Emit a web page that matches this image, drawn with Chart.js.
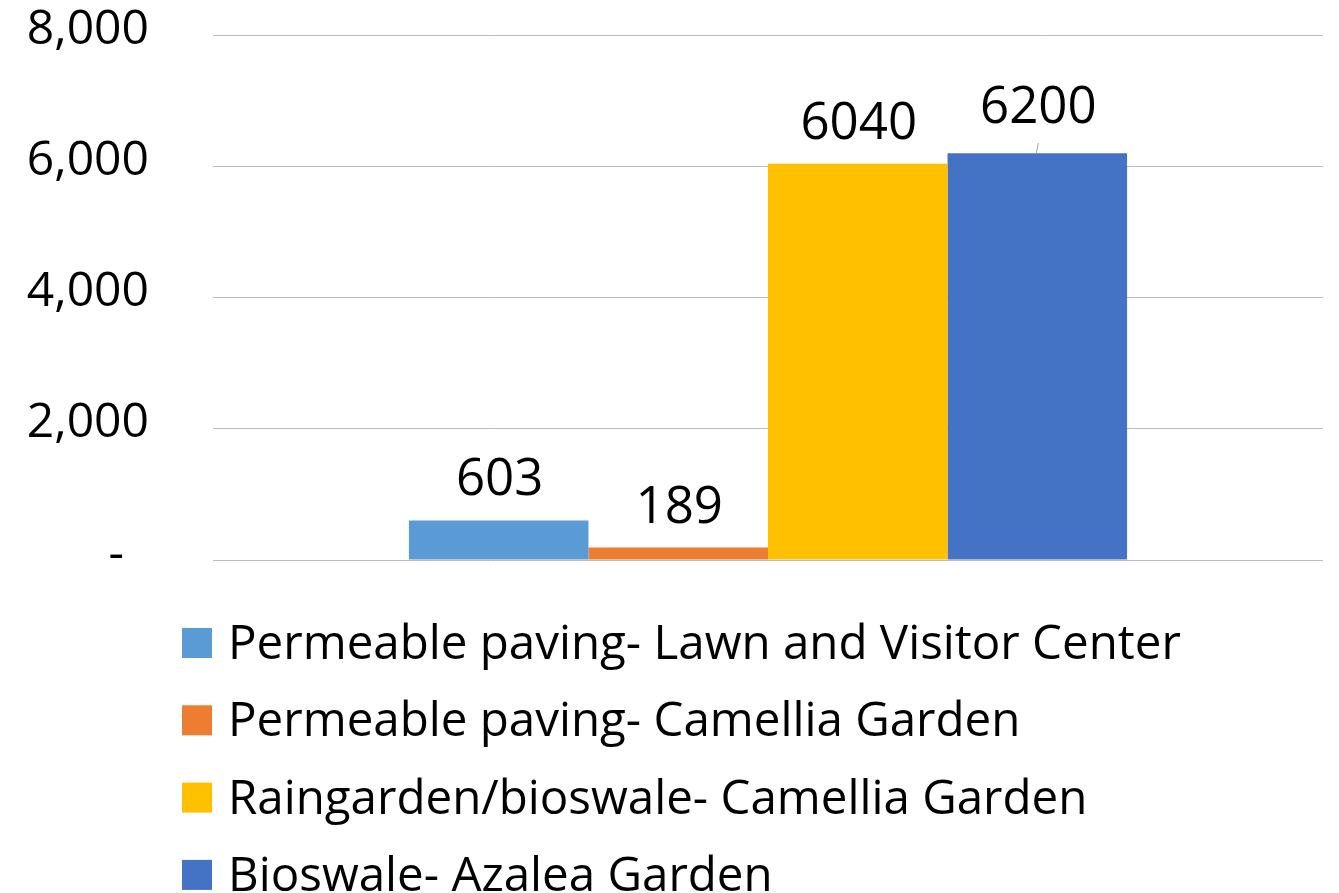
<!DOCTYPE html>
<html>
<head>
<meta charset="utf-8">
<script src="https://cdn.jsdelivr.net/npm/chart.js"></script>
<style>
  html, body { margin: 0; padding: 0; background: #ffffff; }
  #wrap { width: 1339px; height: 893px; }
</style>
</head>
<body>
<div id="wrap"><canvas id="chart" width="1339" height="893"></canvas></div>
<script>
// data
const categories = [""];
const seriesNames = [
  "Permeable paving- Lawn and Visitor Center",
  "Permeable paving- Camellia Garden",
  "Raingarden/bioswale- Camellia Garden",
  "Bioswale- Azalea Garden",
];
const seriesValues = [603, 189, 6040, 6200];
const seriesColors = ["#5B9BD5", "#ED7D31", "#FFC000", "#4472C4"];
const yTicks = [0, 2000, 4000, 6000, 8000];

const FONT = "'Open Sans', 'Noto Sans', sans-serif";

// value labels above the bars (the last one sits a bit higher with a leader line)
const valueLabels = {
  id: "valueLabels",
  afterDatasetsDraw(chart) {
    const ctx = chart.ctx;
    ctx.save();
    ctx.font = "51px " + FONT;
    ctx.fillStyle = "#000000";
    ctx.textAlign = "center";
    ctx.textBaseline = "alphabetic";
    chart.data.datasets.forEach((ds, i) => {
      const bar = chart.getDatasetMeta(i).data[0];
      let lift = 25;
      if (i === chart.data.datasets.length - 1) {
        lift = 30;
        ctx.strokeStyle = "#a6a6a6";
        ctx.lineWidth = 1;
        ctx.beginPath();
        ctx.moveTo(bar.x - 1, bar.y);
        ctx.lineTo(bar.x + 1, bar.y - 10);
        ctx.stroke();
      }
      ctx.fillText(String(ds.data[0]), bar.x + 1, bar.y - lift);
    });
    ctx.restore();
  },
};

// vertical legend under the plot
const sideLegend = {
  id: "sideLegend",
  afterDraw(chart) {
    const ctx = chart.ctx;
    ctx.save();
    ctx.font = "47.5px " + FONT;
    ctx.textAlign = "left";
    ctx.textBaseline = "alphabetic";
    chart.data.datasets.forEach((ds, i) => {
      const cy = 643 + i * 77.3;
      ctx.fillStyle = ds.backgroundColor;
      ctx.fillRect(182, cy - 15, 30, 30);
      ctx.fillStyle = "#000000";
      ctx.fillText(ds.label, 228, cy + 16);
    });
    ctx.restore();
  },
};

const datasets = seriesNames.map((name, i) => ({
  label: name,
  data: [seriesValues[i]],
  backgroundColor: seriesColors[i],
  borderWidth: 0,
}));

new Chart(document.getElementById("chart"), {
  type: "bar",
  data: { labels: categories, datasets: datasets },
  options: {
    responsive: false,
    animation: false,
    devicePixelRatio: 1,
    layout: { padding: { top: 35, right: 16, bottom: 333, left: 0 } },
    datasets: { bar: { categoryPercentage: 0.647, barPercentage: 1 } },
    plugins: {
      legend: { display: false },
      tooltip: { enabled: false },
    },
    scales: {
      x: { display: false },
      y: {
        min: 0,
        max: 8000,
        afterBuildTicks(scale) {
          scale.ticks = yTicks.map((v) => ({ value: v }));
        },
        afterFit(scale) {
          scale.width = 213;
          scale.paddingTop = 0;
          scale.paddingBottom = 0;
        },
        border: { display: false },
        grid: { color: "#bcbcbc", lineWidth: 1, drawTicks: false },
        ticks: {
          padding: 64,
          labelOffset: -5,
          color: "#000000",
          font: { family: FONT, size: 48 },
          callback: (v) => (v === 0 ? "-  " : v.toLocaleString("en-US")),
        },
      },
    },
  },
  plugins: [valueLabels, sideLegend],
});
</script>
</body>
</html>
